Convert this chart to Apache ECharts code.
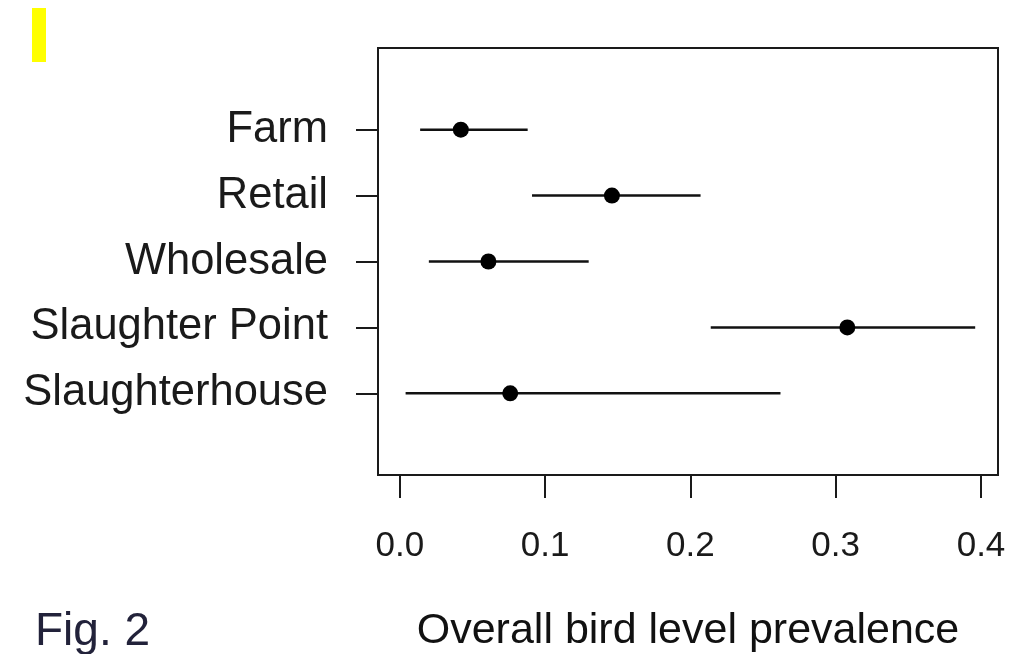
<!DOCTYPE html>
<html>
<head>
<meta charset="utf-8">
<script src="https://cdn.jsdelivr.net/npm/echarts@6/dist/echarts.min.js"></script>
<style>
html,body{margin:0;padding:0;background:#fff;}
#chart{width:1022px;height:654px;}
</style>
</head>
<body>
<div id="chart"></div>
<script>
// Categories, top to bottom as displayed
const categories = ['Farm', 'Retail', 'Wholesale', 'Slaughter Point', 'Slaughterhouse'];
// Point estimates and interval bounds
const estimates = [0.042, 0.146, 0.061, 0.308, 0.076];
const lowerBounds = [0.014, 0.091, 0.020, 0.214, 0.004];
const upperBounds = [0.088, 0.207, 0.130, 0.396, 0.262];
// Axis tick labels
const xTicks = [0.0, 0.1, 0.2, 0.3, 0.4];
const xTitle = 'Overall bird level prevalence';
const figLabel = 'Fig. 2';

const n = categories.length;
const yPos = categories.map((c, i) => n - i);
const yTicks = yPos.slice().reverse();

const chart = echarts.init(document.getElementById('chart'));
const font = 'Liberation Sans, Arial, sans-serif';

chart.setOption({
  backgroundColor: '#ffffff',
  animation: false,
  grid: {
    left: 378, right: 24, top: 48, bottom: 179,
    containLabel: false, outerBoundsMode: 'none',
    show: true, borderColor: '#1a1a1a', borderWidth: 2, backgroundColor: 'transparent'
  },
  xAxis: {
    type: 'value',
    min: -0.015, max: 0.4117,
    axisLine: { show: false, onZero: false },
    splitLine: { show: false },
    axisTick: { show: true, length: 23, customValues: xTicks, lineStyle: { color: '#1a1a1a', width: 2 } },
    axisLabel: {
      customValues: xTicks, margin: 54, fontSize: 35, fontFamily: font, color: '#1a1a1a',
      formatter: v => Number(v).toFixed(1)
    },
    name: xTitle, nameLocation: 'middle', nameGap: 135,
    nameTextStyle: { fontSize: 43, fontFamily: font, color: '#111' }
  },
  yAxis: {
    type: 'value',
    min: -0.24, max: n + 1.24,
    axisLine: { show: false, onZero: false },
    splitLine: { show: false },
    axisTick: { show: true, length: 22, customValues: yTicks, lineStyle: { color: '#1a1a1a', width: 2 } },
    axisLabel: {
      customValues: yTicks, margin: 50, fontSize: 43.5, fontFamily: font, color: '#1a1a1a',
      formatter: v => categories[n - Math.round(v)]
    }
  },
  graphic: [
    { type: 'rect', left: 32, top: 8, shape: { width: 14, height: 54 }, style: { fill: '#ffff00' } },
    { type: 'text', left: 35, top: 609, style: { text: figLabel, fontSize: 46, fontFamily: font, fill: '#22223a' } }
  ],
  series: [
    {
      type: 'custom',
      z: 2,
      data: categories.map((c, i) => [lowerBounds[i], upperBounds[i], yPos[i]]),
      renderItem: (params, api) => {
        const p1 = api.coord([api.value(0), api.value(2)]);
        const p2 = api.coord([api.value(1), api.value(2)]);
        return {
          type: 'line',
          shape: { x1: p1[0], y1: p1[1], x2: p2[0], y2: p2[1] },
          style: { stroke: '#111', lineWidth: 2.5 }
        };
      }
    },
    {
      type: 'scatter',
      z: 3,
      symbol: 'circle',
      symbolSize: 16,
      itemStyle: { color: '#000', opacity: 1 },
      emphasis: { disabled: true },
      data: categories.map((c, i) => [estimates[i], yPos[i]])
    }
  ]
});
</script>
</body>
</html>
